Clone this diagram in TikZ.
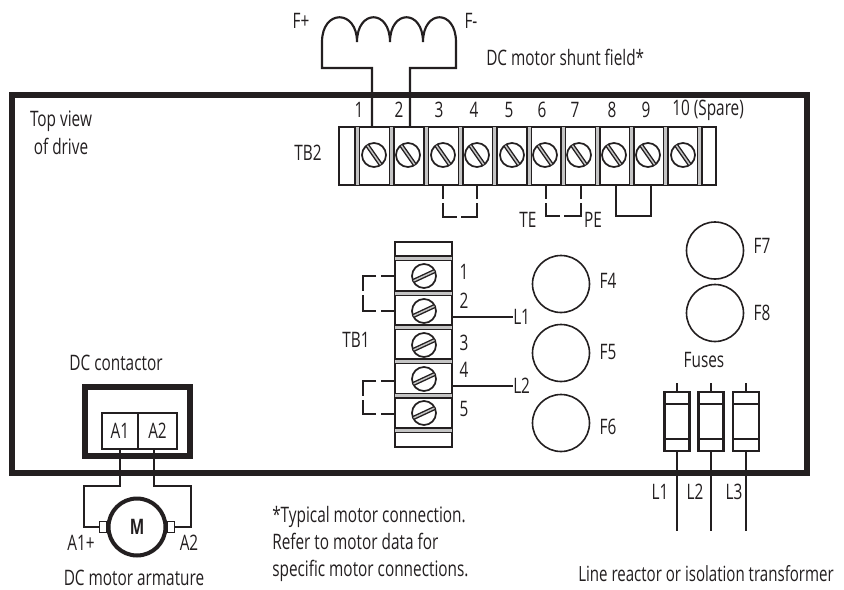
\documentclass[tikz,border=0pt]{standalone}
\usepackage{fontspec}
\setmainfont[FakeStretch=0.72]{Open Sans}
\definecolor{ink}{HTML}{231F20}
\definecolor{lite}{HTML}{C4C4C4}
\def\px{0.75pt}
\tikzset{
  x=0.75pt,y=-0.75pt,
  wire/.style={draw=ink,line width=1.6pt},
  thick box/.style={draw=ink,line width=4.5pt},
  lbl/.style={font=\fontsize{16}{18}\selectfont,text=ink,inner sep=0pt},
  fuse/.style={draw=ink,line width=1.2pt,fill=white,circle,minimum size=57*\px,inner sep=0pt},
  cell/.style={draw=ink,line width=1.2pt},
  screwhead/.style={draw=ink,line width=1.3pt,fill=white,circle,minimum size=24*\px,inner sep=0pt},
}
\newcommand{\screw}[3]{%
  \node[screwhead] (#1) at #2 {};
  \begin{scope}[shift={#2},rotate=#3]
    \draw[draw=ink,line width=3.2pt] (0,-11.5) -- (0,11.5);
    \draw[draw=lite,line width=1.1pt] (0,-11.5) -- (0,11.5);
  \end{scope}}
\begin{document}
\begin{tikzpicture}
\useasboundingbox (0,0) rectangle (844,590);
% main box
\node[thick box,minimum width=795*\px,minimum height=378*\px,anchor=north west,inner sep=0pt,outer sep=0pt] (drive) at (12,95) {};
% coil
\coordinate (c1) at (372,127); \coordinate (c2) at (410,127);
\draw[wire] (c1) -- (372,68) -- (322,68) -- (322,42)
  .. controls (322,9) and (357,9) .. (357,42)
  .. controls (357,9) and (390,9) .. (390,42)
  .. controls (390,9) and (423,9) .. (423,42)
  .. controls (423,9) and (456,9) .. (456,42)
  -- (456,68) -- (410,68) -- (c2);
% TB2
\node[cell,minimum width=377*\px,minimum height=58*\px,anchor=north west,inner sep=0pt,outer sep=0pt] (tb2) at (339,127) {};
\foreach \x in {355,389.5,424,458.5,492.5,527,561,595.5,629.5,663.5,697.5}{
  \fill[lite] (\x,127) rectangle (\x+4.5,185);
  \draw[ink,line width=1.2pt] (\x,127) -- (\x,185);
  \draw[ink,line width=1.2pt] (\x+4.5,127) -- (\x+4.5,185);
}
\foreach \n/\x in {a/374,b/408,c/443,d/477,e/512,f/545,g/579,h/614,i/648,j/683}{
  \screw{s\n}{(\x,155)}{35}
}
\node[lbl] (t1) at (359,110) {1};
\node[lbl] (t2) at (399,110) {2};
\node[lbl] (t3) at (439,110) {3};
\node[lbl] (t4) at (474,110) {4};
\node[lbl] (t5) at (509,110) {5};
\node[lbl] (t6) at (542,110) {6};
\node[lbl] (t7) at (575,110) {7};
\node[lbl] (t8) at (612,110) {8};
\node[lbl] (t9) at (646,110) {9};
\node[lbl,anchor=west] (t10) at (672,110) {10 (Spare)};
\node[lbl] (ltb2) at (308,153) {TB2};
% TB2 jumpers
\draw[wire] (443,185) -- (443,199);
\draw[wire] (443,203) -- (443,217) -- (457,217);
\draw[wire] (461,217) -- (477,217) -- (477,203);
\draw[wire] (477,199) -- (477,185);
\draw[wire] (546,185) -- (546,199);
\draw[wire] (546,203) -- (546,216) -- (560,216);
\draw[wire] (564,216) -- (581,216) -- (581,203);
\draw[wire] (581,199) -- (581,185);
\draw[wire] (616,185) -- (616,216) -- (651,216) -- (651,185);
\node[lbl] (te) at (528,220) {TE};
\node[lbl] (pe) at (593,220) {PE};
% TB1
\node[cell,minimum width=57*\px,minimum height=205*\px,anchor=north west,inner sep=0pt,outer sep=0pt] (tb1) at (395,242) {};
\foreach \y in {256,291,325,359,393.5,428}{
  \fill[lite] (395,\y) rectangle (452,\y+4.5);
  \draw[ink,line width=1.2pt] (395,\y) -- (452,\y);
  \draw[ink,line width=1.2pt] (395,\y+4.5) -- (452,\y+4.5);
}
\foreach \n/\y in {a/276,b/311,c/345,d/379,e/413}{
  \screw{u\n}{(424,\y)}{-65}
}
\node[lbl] (n1) at (464,272) {1};
\node[lbl] (n2) at (464,301) {2};
\node[lbl] (n3) at (464,343) {3};
\node[lbl] (n4) at (464,370) {4};
\node[lbl] (n5) at (464,409) {5};
\node[lbl] (ltb1) at (356,340) {TB1};
\draw[wire] (395,276) -- (381,276);
\draw[wire] (376,276) -- (363,276) -- (363,291);
\draw[wire] (363,295) -- (363,311) -- (376,311);
\draw[wire] (381,311) -- (395,311);
\draw[wire] (395,381) -- (381,381);
\draw[wire] (376,381) -- (363,381) -- (363,396);
\draw[wire] (363,400) -- (363,414) -- (376,414);
\draw[wire] (381,414) -- (395,414);
\node[lbl,anchor=west] (l1a) at (513,317) {L1};
\node[lbl,anchor=west] (l2a) at (513,386) {L2};
\coordinate (w1) at (452,317); \coordinate (w2) at (452,386);
\draw[wire] (w1) -- (l1a.west);
\draw[wire] (w2) -- (l2a.west);
% fuses
\node[fuse] (f4) at (561,284) {};
\node[fuse] (f5) at (561,353) {};
\node[fuse] (f6) at (561,423) {};
\node[fuse] (f7) at (715,250.5) {};
\node[fuse] (f8) at (715,313) {};
\node[lbl] (lf4) at (608,281) {F4};
\node[lbl] (lf5) at (608,352) {F5};
\node[lbl] (lf6) at (608,427) {F6};
\node[lbl] (lf7) at (762,246) {F7};
\node[lbl] (lf8) at (762,313) {F8};
\node[lbl] (fuses) at (704,360) {Fuses};
% cartridge fuses
\foreach \n/\x/\w in {a/677/12.5,b/711/12.5,c/746/13}{
  \coordinate (top\n) at (\x,383);
  \coordinate (bot\n) at (\x,531);
  \draw[wire] (top\n) -- (\x,392);
  \draw[wire] (\x,451) -- (bot\n);
  \draw[draw=ink,line width=1.7pt] (\x-\w,392) rectangle (\x+\w,451);
  \draw[draw=ink,line width=1.5pt] (\x-\w,404) -- (\x+\w,404);
  \draw[draw=ink,line width=1.5pt] (\x-\w,439) -- (\x+\w,439);
}
\node[lbl] (la) at (660,492) {L1};
\node[lbl] (lb) at (695,492) {L2};
\node[lbl] (lc) at (734,492) {L3};
% contactor
\node[lbl] (dccont) at (116,363) {DC contactor};
\node[thick box,minimum width=105*\px,minimum height=69*\px,anchor=north west,inner sep=0pt,outer sep=0pt] (cont) at (85,387) {};
\node[cell,lbl,line width=1.6pt,minimum width=36*\px,minimum height=36*\px,inner sep=0pt,outer sep=0pt,anchor=north west] (a1) at (102,413) {A1};
\node[cell,lbl,line width=1.6pt,minimum width=39*\px,minimum height=36*\px,inner sep=0pt,outer sep=0pt,anchor=north west] (a2) at (138,413) {A2};
% motor
\node[draw=ink,line width=3pt,circle,fill=white,minimum size=57*\px,inner sep=0pt,font=\fontsize{16}{18}\bfseries\selectfont,text=ink] (m) at (137,527) {M};
\node[cell,fill=white,minimum width=7*\px,minimum height=11*\px,inner sep=0pt,outer sep=0pt] (bl) at (103,527) {};
\node[cell,fill=white,minimum width=7*\px,minimum height=11*\px,inner sep=0pt,outer sep=0pt] (br) at (171,527) {};
\draw[wire] (120,449) -- (120,486) -- (84,486) -- (84,527) -- (bl.west);
\draw[wire] (154,449) -- (154,486) -- (191,486) -- (191,527) -- (br.east);
\node[lbl] (a1p) at (81,543) {A1+};
\node[lbl] (a2p) at (189,543) {A2};
\node[lbl] (arm) at (134,578) {DC motor armature};
% texts
\node[lbl] (fp) at (301,21) {F+};
\node[lbl] (fm) at (471,21) {F-};
\node[lbl,anchor=west] (sf) at (486,57) {DC motor shunt field*};
\node[lbl,align=center,font=\fontsize{16}{21}\selectfont] (top) at (61,133) {Top view\\of drive};
\node[lbl,align=left,anchor=west,font=\fontsize{16}{20.5}\selectfont] (note) at (272,544) {*Typical motor connection.\\Refer to motor data for\\specific motor connections.};
\node[lbl,anchor=west,font=\fontsize{15.7}{18}\selectfont] (lr) at (578,574) {Line reactor or isolation transformer};
\end{tikzpicture}
\end{document}
